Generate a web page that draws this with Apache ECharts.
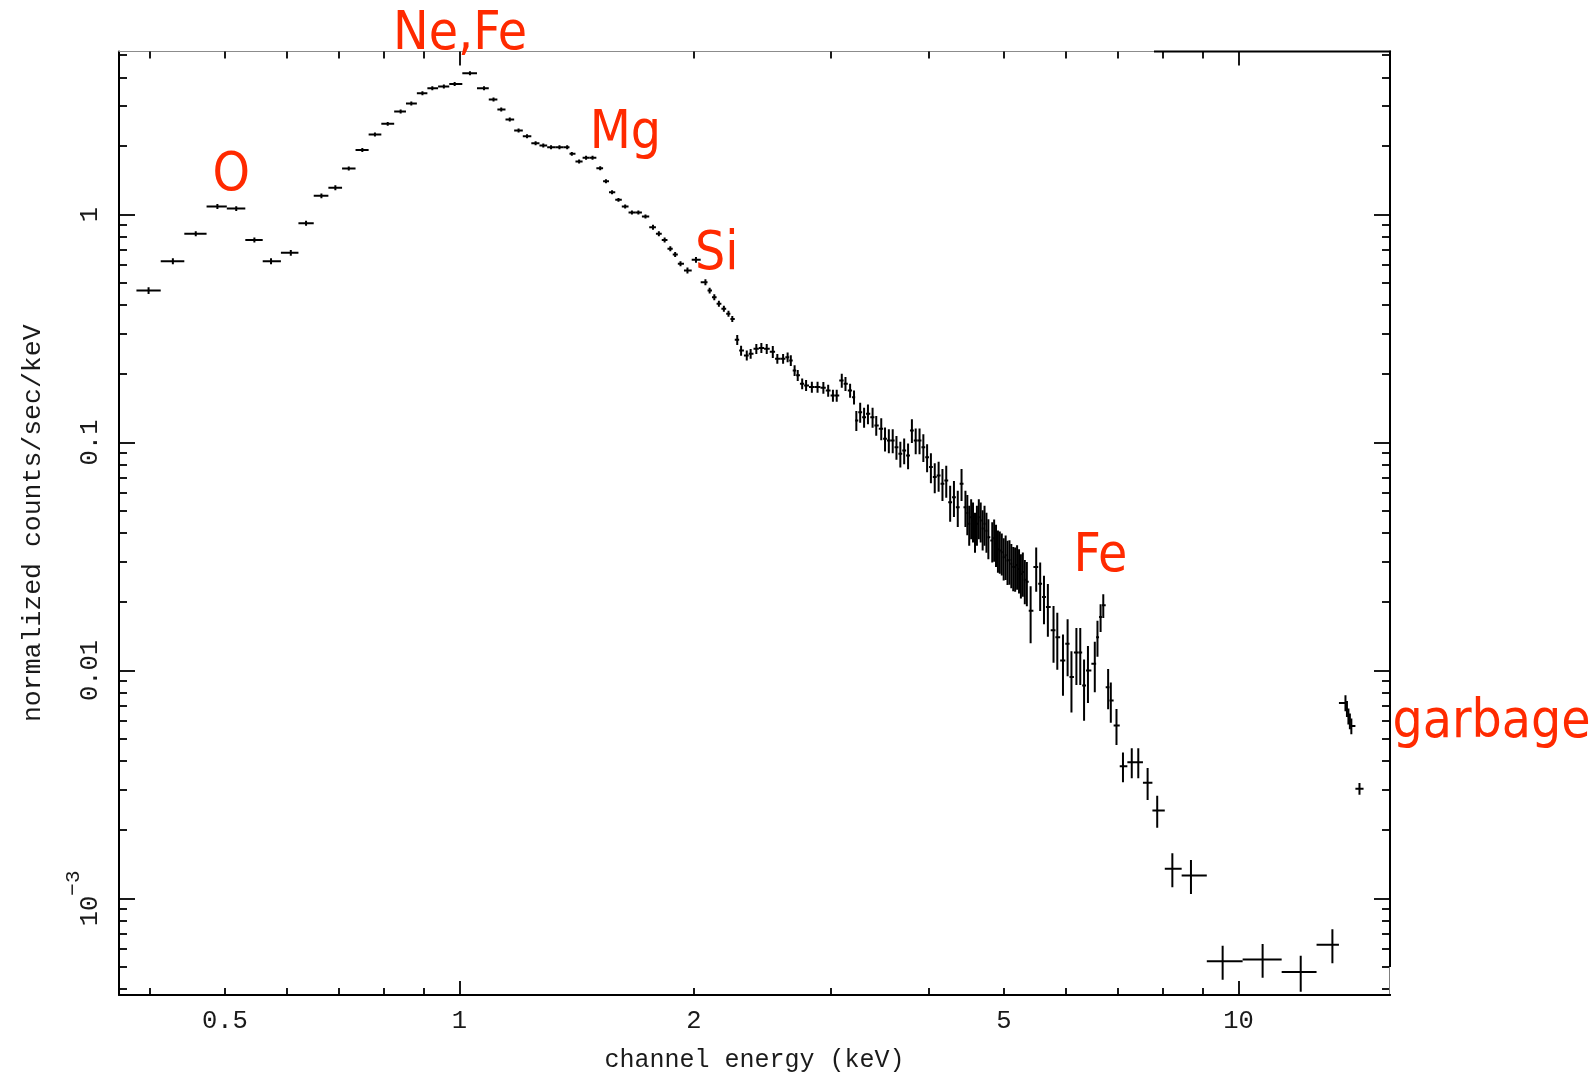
<!DOCTYPE html>
<html><head><meta charset="utf-8">
<script src="https://cdn.jsdelivr.net/npm/echarts@6/dist/echarts.min.js"></script>
<style>html,body{margin:0;padding:0;background:#fff;}#c{width:1594px;height:1080px;}</style>
</head><body><div id="c"></div>
<script>
// channel energies (keV), bin centres
const energy = [0.399,0.4287,0.4587,0.489,0.517,0.5455,0.573,0.6075,0.6355,0.665,
0.693,0.721,0.7505,0.779,0.809,0.8405,0.8674,0.8964,0.923,0.955,
0.986,1.0316,1.0754,1.106,1.1315,1.1604,1.191,1.2212,1.2525,1.2813,
1.311,1.344,1.375,1.394,1.4244,1.454,1.482,1.516,1.542,1.57,
1.6,1.632,1.665,1.697,1.733,1.772,1.803,1.834,1.865,1.892,
1.922,1.962,2.012,2.069,2.095,2.124,2.153,2.185,2.215,2.24,
2.273,2.299,2.338,2.365,2.405,2.441,2.48,2.525,2.559,2.603,
2.638,2.663,2.693,2.718,2.754,2.786,2.834,2.882,2.932,2.974,
3.016,3.05,3.096,3.13,3.173,3.21,3.232,3.269,3.307,3.345,
3.391,3.428,3.479,3.518,3.558,3.599,3.639,3.681,3.723,3.766,
3.809,3.852,3.896,3.94,3.984,4.029,4.075,4.122,4.169,4.216,
4.265,4.313,4.362,4.411,4.462,4.487,4.512,4.538,4.563,4.59,
4.616,4.642,4.668,4.695,4.721,4.748,4.775,4.83,4.857,4.884,
4.912,4.939,4.968,4.996,5.025,5.053,5.082,5.11,5.139,5.168,
5.198,5.228,5.257,5.287,5.318,5.35,5.41,5.5,5.565,5.628,
5.693,5.789,5.854,5.953,6.035,6.104,6.194,6.265,6.336,6.409,
6.54,6.592,6.653,6.706,6.803,6.857,6.973,7.108,7.295,7.437,
7.645,7.865,8.225,8.69,9.543,10.74,12.02,13.2,13.72,13.78,
13.84,13.9,13.96,14.3];
// normalized counts/sec/keV
const counts = [0.464,0.624,0.823,1.084,1.062,0.774,0.624,0.679,0.916,1.208,
1.31,1.591,1.921,2.243,2.499,2.83,3.068,3.405,3.58,3.643,
3.74,4.166,3.58,3.195,2.888,2.61,2.335,2.205,2.054,2.007,
1.973,1.973,1.973,1.846,1.708,1.773,1.773,1.596,1.40,1.252,
1.16,1.084,1.02,1.02,0.98,0.88,0.823,0.774,0.708,0.668,
0.608,0.568,0.633,0.505,0.464,0.434,0.406,0.386,0.367,0.3485,
0.282,0.253,0.241,0.245,0.2576,0.26,0.2576,0.25,0.233,0.233,
0.2366,0.229,0.207,0.197,0.181,0.178,0.175,0.175,0.174,0.169,
0.1607,0.1607,0.187,0.181,0.169,0.158,0.1249,0.1358,0.129,0.1336,
0.129,0.1188,0.115,0.1038,0.102,0.102,0.0954,0.0892,0.0922,0.0877,
0.113,0.102,0.102,0.0954,0.0862,0.078,0.0705,0.0716,0.0659,0.0681,
0.0547,0.0575,0.052,0.0659,0.052,0.049,0.044,0.047,0.0455,0.041,
0.044,0.047,0.0455,0.042,0.044,0.041,0.0384,0.0372,0.038,0.036,
0.034,0.0336,0.033,0.0314,0.032,0.0304,0.0305,0.0294,0.0285,0.0284,
0.029,0.0279,0.0265,0.027,0.025,0.0245,0.0183,0.0284,0.024,0.021,
0.019,0.015,0.014,0.01106,0.0131,0.00935,0.012,0.012,0.00859,0.01,
0.0107,0.014,0.01714,0.0193,0.00845,0.00738,0.00574,0.0038,0.00396,0.00396,
0.00322,0.00243,0.00135,0.00126,0.00053,0.00054,0.000475,0.000626,0.0072,0.0068,
0.0063,0.006,0.0057,0.00303];
// relative 1-sigma error of counts
const countsRelErr = [0.035,0.03,0.025,0.025,0.025,0.025,0.03,0.03,0.025,0.025,
0.025,0.02,0.02,0.02,0.02,0.02,0.02,0.02,0.02,0.02,
0.02,0.02,0.02,0.02,0.02,0.02,0.02,0.02,0.02,0.02,
0.02,0.02,0.02,0.02,0.02,0.02,0.02,0.02,0.02,0.02,
0.02,0.02,0.02,0.02,0.02,0.025,0.025,0.025,0.025,0.025,
0.025,0.03,0.03,0.03,0.03,0.03,0.03,0.03,0.03,0.03,
0.05,0.05,0.05,0.05,0.05,0.05,0.05,0.06,0.05,0.05,
0.05,0.055,0.055,0.055,0.055,0.055,0.055,0.055,0.06,0.06,
0.06,0.06,0.07,0.07,0.07,0.07,0.1,0.1,0.1,0.1,
0.1,0.1,0.11,0.12,0.12,0.12,0.12,0.13,0.13,0.13,
0.12,0.13,0.13,0.14,0.14,0.15,0.15,0.15,0.16,0.16,
0.18,0.18,0.18,0.16,0.18,0.2,0.2,0.2,0.2,0.2,
0.2,0.2,0.2,0.2,0.2,0.2,0.2,0.2,0.21,0.21,
0.21,0.21,0.21,0.21,0.22,0.22,0.22,0.22,0.22,0.22,
0.22,0.22,0.22,0.22,0.22,0.22,0.28,0.22,0.24,0.24,
0.26,0.28,0.28,0.3,0.28,0.3,0.28,0.28,0.3,0.28,
0.25,0.18,0.14,0.12,0.2,0.2,0.18,0.15,0.15,0.15,
0.16,0.16,0.17,0.17,0.17,0.17,0.18,0.17,0.08,0.08,
0.08,0.08,0.08,0.06];

const xRange = [0.3656, 15.65];
const yRange = [3.77e-4, 5.19];
const xMajorTicks = [1, 10];
const xMinorTicks = [0.4,0.5,0.6,0.7,0.8,0.9,2,3,4,5,6,7,8,9];
const xTickLabels = [0.5, 1, 2, 5, 10];
const yMajorTicks = [0.001, 0.01, 0.1, 1];
const yMinorTicks = [0.0004,0.0005,0.0006,0.0007,0.0008,0.0009,
  0.002,0.003,0.004,0.005,0.006,0.007,0.008,0.009,
  0.02,0.03,0.04,0.05,0.06,0.07,0.08,0.09,
  0.2,0.3,0.4,0.5,0.6,0.7,0.8,0.9,2,3,4,5];
const yTickLabels = [0.001, 0.01, 0.1, 1];
const xTitle = 'channel energy (keV)';
const yTitle = 'normalized counts/sec/keV';
const lineLabels = ['Ne,Fe', 'O', 'Mg', 'Si', 'Fe', 'garbage'];

// bins are contiguous: bar edges halfway (in log) between neighbouring centres
const points = energy.map((e, i) => {
  const prev = i > 0 ? energy[i - 1] : e * e / energy[i + 1];
  const next = i < energy.length - 1 ? energy[i + 1] : e * e / energy[i - 1];
  const v = counts[i], dv = v * countsRelErr[i];
  return [e, v, Math.sqrt(prev * e), Math.sqrt(e * next), v - dv, v + dv];
});
if (energy.length !== counts.length || energy.length !== countsRelErr.length) console.error('length mismatch');

const tickFont = { fontFamily: 'Liberation Mono', fontSize: 25.5, color: '#1a1a1a' };
const fmt = v => {
  const r = +(+v).toPrecision(3);
  if (Math.abs(r - 0.001) < 1e-12) return '{b|10}{s|\u22123}';
  return String(r);
};
function axis(dim, pos, ticks, len, opts) {
  const a = {
    type: 'log', logBase: 10, min: dim === 'x' ? xRange[0] : yRange[0], max: dim === 'x' ? xRange[1] : yRange[1],
    position: pos, gridIndex: 0,
    axisLine: { show: false, onZero: false },
    axisTick: { show: true, inside: true, length: len, customValues: ticks, lineStyle: { color: '#000', width: 1.8 } },
    axisLabel: { show: false },
    splitLine: { show: false }, minorTick: { show: false }, minorSplitLine: { show: false }
  };
  return Object.assign(a, opts || {});
}
const chart = echarts.init(document.getElementById('c'), null, { renderer: 'canvas' });
chart.setOption({
  backgroundColor: '#fff',
  animation: false,
  grid: { left: 119, top: 51.5, width: 1271, height: 943.5, containLabel: false, outerBoundsMode: 'none' },
  xAxis: [
    axis('x', 'bottom', xMajorTicks, 14, {
      axisLine: { show: true, onZero: false, lineStyle: { color: '#000', width: 2 } },
      axisLabel: Object.assign({ show: true, customValues: xTickLabels, margin: 13, formatter: fmt }, tickFont),
      name: xTitle, nameLocation: 'middle', nameGap: 53,
      nameTextStyle: { fontFamily: 'Liberation Mono', fontSize: 25, color: '#1a1a1a' }
    }),
    axis('x', 'bottom', xMinorTicks, 7),
    axis('x', 'top', xMajorTicks, 14, {
      axisLine: { show: true, onZero: false, lineStyle: { color: '#8c8c8c', width: 1.2 } }
    }),
    axis('x', 'top', xMinorTicks, 7)
  ],
  yAxis: [
    axis('y', 'left', yMajorTicks, 16, {
      axisLine: { show: true, onZero: false, lineStyle: { color: '#000', width: 2 } },
      axisLabel: Object.assign({ show: true, customValues: yTickLabels, margin: 16, rotate: 90, formatter: fmt,
        rich: {
          b: { fontFamily: 'Liberation Mono', fontSize: 25.5, color: '#1a1a1a', verticalAlign: 'bottom', lineHeight: 40 },
          s: { fontFamily: 'Liberation Mono', fontSize: 21, color: '#1a1a1a', verticalAlign: 'top', lineHeight: 40 }
        } }, tickFont),
      name: yTitle, nameLocation: 'middle', nameGap: 73, nameRotate: 90,
      nameTextStyle: { fontFamily: 'Liberation Mono', fontSize: 26.5, color: '#1a1a1a' }
    }),
    axis('y', 'left', yMinorTicks, 8),
    axis('y', 'right', yMajorTicks, 16, {
      axisLine: { show: true, onZero: false, lineStyle: { color: '#000', width: 2 } }
    }),
    axis('y', 'right', yMinorTicks, 8)
  ],
  series: [{
    type: 'custom', xAxisIndex: 0, yAxisIndex: 0, clip: true,
    data: points,
    encode: { x: 0, y: 1 },
    renderItem: (params, api) => {
      const e = api.value(0), v = api.value(1);
      const l = api.coord([api.value(2), v]), r = api.coord([api.value(3), v]);
      const b = api.coord([e, api.value(4)]), t = api.coord([e, api.value(5)]);
      const st = { stroke: '#000', lineWidth: 2 };
      return { type: 'group', children: [
        { type: 'line', shape: { x1: l[0], y1: l[1], x2: r[0], y2: r[1] }, style: st },
        { type: 'line', shape: { x1: b[0], y1: b[1], x2: t[0], y2: t[1] }, style: st }
      ] };
    }
  }],
  graphic: [
    { type: 'line', z: 100, shape: { x1: 1154, y1: 51.5, x2: 1391, y2: 51.5 }, style: { stroke: '#000', lineWidth: 2 } },
    { type: 'rect', z: 100, shape: { x: 1389.5, y: 967, width: 6, height: 27 }, style: { fill: '#fff' } },
    ...[[0, 393, 35], [1, 212.4, 176], [2, 589.7, 133.8], [3, 695, 255], [4, 1073.4, 556.8], [5, 1392.4, 723.4]].map(([i, x, y]) => ({
      type: 'text', z: 110, x: x, y: y,
      style: { text: lineLabels[i], fill: '#ff2a00', fontSize: 53, fontFamily: "'DejaVu Sans Condensed', 'DejaVu Sans', sans-serif",
        align: 'left', verticalAlign: 'middle', textAlign: 'left', textVerticalAlign: 'middle' }
    }))
  ]
});
</script></body></html>
